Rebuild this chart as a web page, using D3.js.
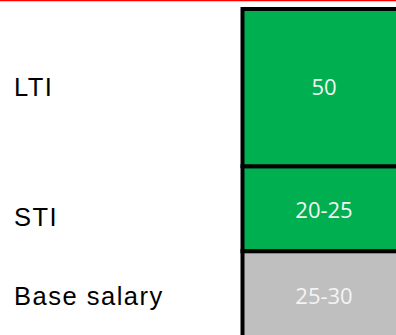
<!DOCTYPE html>
<html>
<head>
<meta charset="utf-8">
<script src="https://cdn.jsdelivr.net/npm/d3@7"></script>
<style>
  html, body { margin: 0; padding: 0; background: #fff; }
  svg { display: block; }
</style>
</head>
<body>
<svg id="vis" width="396" height="335"></svg>
<script>
// stacked pay mix, bottom to top
var categories = ["Base salary", "STI", "LTI"];
var heights = [30, 27, 50];           // bar segment sizes as drawn
var valueLabels = ["25-30", "20-25", "50"];
var colors = ["#bfbfbf", "#00b050", "#00b050"];

var W = 396, H = 335;
var svg = d3.select("#vis");

// thin red rule along the top
svg.append("line")
    .attr("x1", 0).attr("x2", W)
    .attr("y1", 0.5).attr("y2", 0.5)
    .attr("stroke", "#ff0000")
    .attr("stroke-width", 1.5);

var total = d3.sum(heights);
var y = d3.scaleLinear().domain([0, total]).range([345.5, 9]);
var x = d3.scaleBand().domain(["pay"]).range([242.5, 405.5]);

var stacked = [];
var acc = 0;
heights.forEach(function(h, i) {
    stacked.push({ name: categories[i], y0: acc, y1: acc + h, label: valueLabels[i], color: colors[i], i: i });
    acc += h;
});

var seg = svg.selectAll(".seg").data(stacked).enter().append("g").attr("class", "seg");

seg.append("rect")
    .attr("x", x("pay"))
    .attr("width", x.bandwidth())
    .attr("y", d => y(d.y1))
    .attr("height", d => y(d.y0) - y(d.y1))
    .attr("fill", d => d.color)
    .attr("stroke", "#000")
    .attr("stroke-width", 4);

// value labels in the middle of each block
var labelShift = [ -4, 9, 7 ];
seg.append("text")
    .attr("x", x("pay") + x.bandwidth() / 2)
    .attr("y", d => d.i === 0 ? 304 : (y(d.y0) + y(d.y1)) / 2 + labelShift[d.i])
    .attr("text-anchor", "middle")
    .attr("font-family", "'Open Sans', sans-serif")
    .attr("font-size", "22px")
    .attr("fill", "#f4f4f4")
    .text(d => d.label);

// category names on the left
var nameShift = [ 0, 17, 8 ];
seg.append("text")
    .attr("x", 14)
    .attr("y", d => d.i === 0 ? 305 : (y(d.y0) + y(d.y1)) / 2 + nameShift[d.i])
    .attr("font-family", "'Liberation Sans', Arial, sans-serif")
    .attr("font-size", "25.5px")
    .attr("letter-spacing", "1.5px")
    .attr("fill", "#000")
    .text(d => d.name);
</script>
</body>
</html>
